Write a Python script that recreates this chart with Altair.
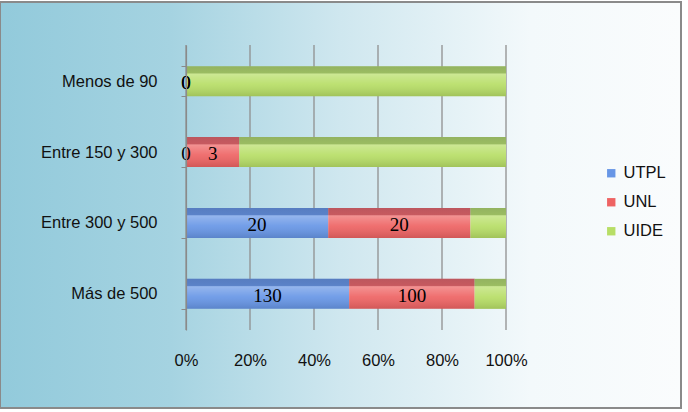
import altair as alt
import pandas as pd

categories = ["Más de 500", "Entre 300 y 500", "Entre 150 y 300", "Menos de 90"]
series = ["UTPL", "UNL", "UIDE"]
utpl = [130, 20, 0, 0]
unl = [100, 20, 3, 0]
uide = [25, 5, 15, 10]
colors = ["#6796E6", "#EE6363", "#B7DE66"]
x_ticks = [0, 0.2, 0.4, 0.6, 0.8, 1.0]
y_order = ["Menos de 90", "Entre 150 y 300", "Entre 300 y 500", "Más de 500"]

rows = []
for i, c in enumerate(categories):
    for k, (s, vals) in enumerate(zip(series, [utpl, unl, uide])):
        rows.append({"cat": c, "serie": s, "value": vals[i], "order": k})
df = pd.DataFrame(rows)

base = alt.Chart(df).transform_stack(
    stack="value", groupby=["cat"], as_=["v0", "v1"], offset="normalize",
    sort=[alt.SortField("order", order="ascending")]
)

y_enc = alt.Y("cat:N", sort=y_order, title=None,
              scale=alt.Scale(paddingInner=0.58, paddingOuter=0.3),
              axis=alt.Axis(labelFont="Liberation Sans", labelFontSize=16.5, labelColor="#111",
                            labelPadding=24, tickBand="extent", tickColor="#8a8a8a",
                            tickSize=5, domainColor="#8a8a8a", domainWidth=1.2, grid=False,
                            zindex=1))
x_enc = alt.X("v0:Q", title=None, scale=alt.Scale(domain=[0, 1]),
              axis=alt.Axis(values=x_ticks, format="%", labelFont="Liberation Sans",
                            labelFontSize=16.5, labelColor="#111", grid=False,
                            labelFlush=False, labelOverlap=False,
                            domain=False, ticks=False, labelPadding=22, zindex=1))

grid = alt.Chart(pd.DataFrame({"t": x_ticks})).mark_rule(
    color="#8f8f8f", strokeWidth=1.3
).encode(x=alt.X("t:Q", scale=alt.Scale(domain=[0, 1])))

bars = base.mark_bar(size=30).encode(
    y=y_enc,
    x=x_enc,
    x2="v1:Q",
    color=alt.Color("serie:N", sort=series,
                    scale=alt.Scale(domain=series, range=colors),
                    legend=alt.Legend(title=None, orient="none", legendX=417, legendY=120,
                                      symbolType="square", symbolSize=70, symbolStrokeWidth=0,
                                      labelFont="Liberation Sans", labelFontSize=16.5,
                                      labelColor="#111", rowPadding=12)),
    order=alt.Order("order:Q"),
)

shade = base.mark_bar(size=30, fill={
    "gradient": "linear", "x1": 0, "y1": 0, "x2": 0, "y2": 1,
    "stops": [
        {"offset": 0, "color": "rgba(40,50,80,0.25)"},
        {"offset": 0.22, "color": "rgba(40,50,80,0.2)"},
        {"offset": 0.26, "color": "rgba(255,255,255,0.3)"},
        {"offset": 0.6, "color": "rgba(255,255,255,0.08)"},
        {"offset": 1, "color": "rgba(0,0,0,0.12)"},
    ]}).encode(y=alt.Y("cat:N", sort=y_order), x="v0:Q", x2="v1:Q")

labels = base.transform_filter(
    alt.FieldOneOfPredicate(field="serie", oneOf=["UTPL", "UNL"])
).transform_calculate(mid="(datum.v0 + datum.v1) / 2").mark_text(
    font="Liberation Serif", fontSize=19, color="#000", dy=2
).encode(y=alt.Y("cat:N", sort=y_order), x="mid:Q", text="value:Q")

bg = alt.Chart(pd.DataFrame({"a": [0]})).mark_rect(
    stroke="#8a8a8a", strokeWidth=2,
    fill={"gradient": "linear", "x1": 0, "y1": 0, "x2": 1, "y2": 0,
          "stops": [
              {"offset": 0, "color": "#92CADB"},
              {"offset": 0.25, "color": "#A5D3E1"},
              {"offset": 0.5, "color": "#CFE7EF"},
              {"offset": 0.78, "color": "#F3F9FB"},
              {"offset": 1, "color": "#FAFCFD"},
          ]}
).encode(x=alt.value(-186), x2=alt.value(495), y=alt.value(-43), y2=alt.value(363))

chart = alt.layer(bg, grid, bars, shade, labels).properties(
    width=320, height=285, autosize="none",
    padding={"left": 186, "top": 45, "right": 182, "bottom": 82}
).configure(background="white").configure_view(stroke=None)

chart.save("out.html", embed_options={"renderer": "svg", "actions": False})
